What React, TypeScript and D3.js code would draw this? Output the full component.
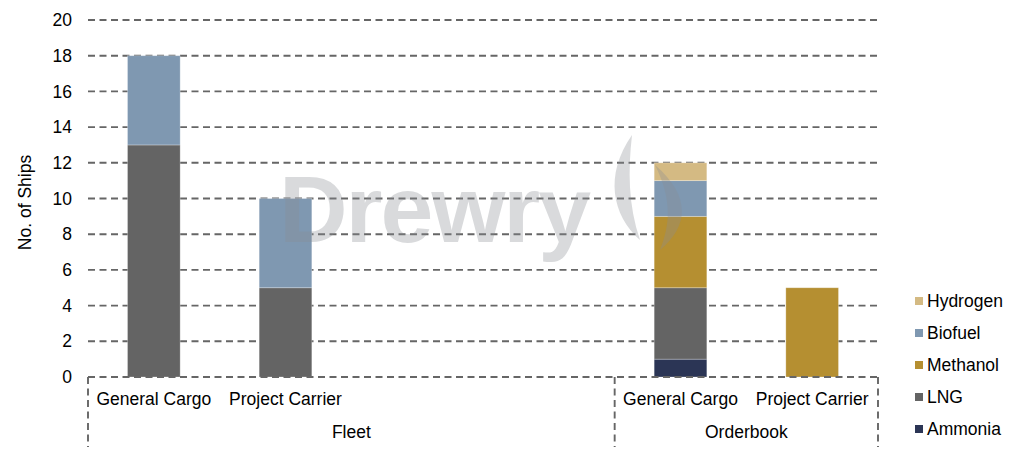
import * as d3 from "d3";

const slots = ["fleet-gc", "fleet-pc", "fleet-3", "fleet-4", "order-gc", "order-pc"];
const slotLabels = ["General Cargo", "Project Carrier", "", "", "General Cargo", "Project Carrier"];
const groups = [
  { name: "Fleet", from: "fleet-gc", to: "fleet-4" },
  { name: "Orderbook", from: "order-gc", to: "order-pc" },
];

const fuels = ["Ammonia", "LNG", "Methanol", "Biofuel", "Hydrogen"];
const fuelColors = ["#2b3555", "#646464", "#b58f31", "#7f98b1", "#d4ba83"];

const ammonia = [0, 0, 0, 0, 1, 0];
const lng = [13, 5, 0, 0, 4, 0];
const methanol = [0, 0, 0, 0, 4, 5];
const biofuel = [5, 5, 0, 0, 2, 0];
const hydrogen = [0, 0, 0, 0, 1, 0];

const yTicks = [0, 2, 4, 6, 8, 10, 12, 14, 16, 18, 20];

const W = 1022;
const H = 455;
const left = 88;
const right = 878;
const top = 20;
const bottom = 377;
const font = "'Liberation Sans', Arial, sans-serif";
const fs = 17.5;
const gridColor = "#666666";
const dash = "7 4.5";

export default function App() {
  const x = d3.scaleBand<string>().domain(slots).range([left, right]).paddingInner(0.6).paddingOuter(0.3);
  const slotX = d3.scaleBand<string>().domain(slots).range([left, right]);
  const y = d3.scaleLinear().domain([0, 20]).range([bottom, top]);

  const rows = slots.map((s, i) => ({
    slot: s,
    Ammonia: ammonia[i],
    LNG: lng[i],
    Methanol: methanol[i],
    Biofuel: biofuel[i],
    Hydrogen: hydrogen[i],
  }));
  const stacked = d3.stack<any>().keys(fuels)(rows);
  const color = d3.scaleOrdinal<string, string>().domain(fuels).range(fuelColors);

  const legendY = d3.scalePoint<string>().domain([...fuels].reverse()).range([301, 429]);

  return (
    <div style={{ position: "absolute", left: 0, top: 0, background: "#fff" }}>
      <svg width={W} height={H} viewBox={`0 0 ${W} ${H}`} style={{ display: "block", fontFamily: font }}>
        <rect width={W} height={H} fill="#fff" />
        {/* gridlines */}
        {yTicks.map((t) => (
          <g key={t}>
            {t > 0 && (
              <line x1={left} x2={right} y1={y(t)} y2={y(t)} stroke={gridColor} strokeWidth={1.9} strokeDasharray={dash} />
            )}
            <text x={72} y={y(t)} dy="0.35em" textAnchor="end" fontSize={fs} fill="#000">
              {t}
            </text>
          </g>
        ))}
        {/* bars */}
        {stacked.map((layer) => (
          <g key={layer.key} fill={color(layer.key)} stroke="#ffffff" strokeOpacity={0.35} strokeWidth={0.8}>
            {layer.map((d, i) =>
              d[1] - d[0] > 0 ? (
                <rect key={i} x={x(slots[i])} width={x.bandwidth()} y={y(d[1])} height={y(d[0]) - y(d[1])} />
              ) : null
            )}
          </g>
        ))}
        {/* category axis */}
        <line x1={left} x2={right} y1={bottom} y2={bottom} stroke={gridColor} strokeWidth={1.9} strokeDasharray={dash} />
        {slots.map((s, i) => (
          <text key={s} x={(slotX(s) ?? 0) + slotX.bandwidth() / 2} y={405} textAnchor="middle" fontSize={fs} fill="#000">
            {slotLabels[i]}
          </text>
        ))}
        {groups.map((g) => {
          const x0 = slotX(g.from) ?? 0;
          const x1 = (slotX(g.to) ?? 0) + slotX.bandwidth();
          return (
            <text key={g.name} x={(x0 + x1) / 2} y={438} textAnchor="middle" fontSize={fs} fill="#000">
              {g.name}
            </text>
          );
        })}
        {[left, slotX("order-gc") ?? 0, right].map((xx, i) => (
          <line key={i} x1={xx} x2={xx} y1={bottom} y2={447} stroke={gridColor} strokeWidth={1.9} strokeDasharray={dash} />
        ))}
        {/* y label */}
        <text transform={`translate(31,${(top + bottom) / 2 + 4}) rotate(-90)`} textAnchor="middle" fontSize={fs} fill="#000">
          No. of Ships
        </text>
        {/* legend */}
        {fuels.map((f) => (
          <g key={f} transform={`translate(915,${legendY(f)})`}>
            <rect x={0} y={-4} width={8} height={8} fill={color(f)} />
            <text x={12} y={0} dy="0.36em" fontSize={fs} fill="#000">
              {f}
            </text>
          </g>
        ))}
        {/* watermark */}
        <g opacity={0.32} pointerEvents="none">
          <text x={279} y={242} fontSize={95} fontWeight="bold" fill="#8a8e94" letterSpacing={-2}>
            Drewry
          </text>
          <path d="M632,135 C604,175 612,215 640,240 C628,205 628,170 632,135 Z" fill="#8a8e94" />
          <path d="M655,165 C690,195 690,225 660,250 C672,220 670,195 655,165 Z" fill="#8a8e94" />
        </g>
      </svg>
    </div>
  );
}
